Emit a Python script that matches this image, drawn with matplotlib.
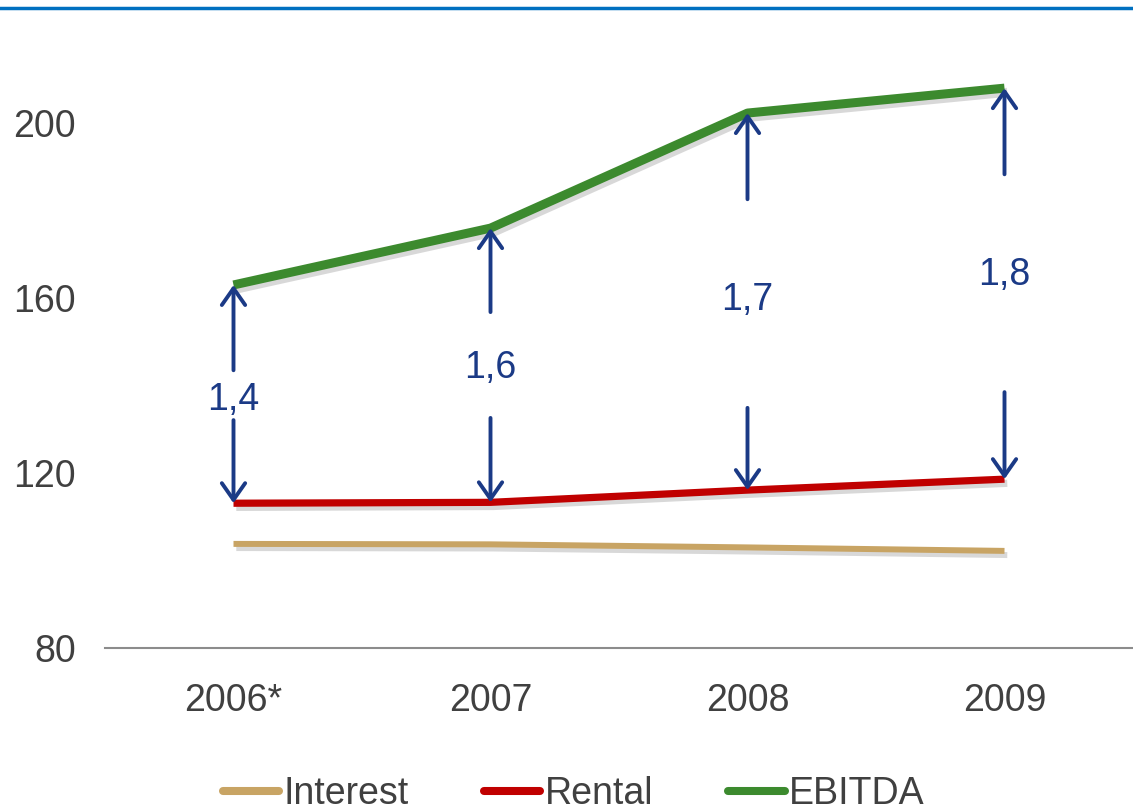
import matplotlib
matplotlib.use("Agg")
import matplotlib.pyplot as plt
import matplotlib.patheffects as pe
from matplotlib.lines import Line2D

# ---- data ----
years = ["2006*", "2007", "2008", "2009"]
interest = [103.8, 103.7, 103.0, 102.2]
rental = [113.1, 113.3, 116.1, 118.6]
ebitda = [163.0, 176.0, 202.3, 208.0]
ratio_labels = ["1,4", "1,6", "1,7", "1,8"]
# annotation placement (value-axis units)
label_base = [134.4, 141.7, 157.3, 163.0]
up_start = [143.5, 156.8, 182.6, 188.3]
down_start = [132.1, 132.6, 134.9, 138.5]
yticks = [80, 120, 160, 200]

plt.rcParams["font.family"] = ["Liberation Sans", "DejaVu Sans"]

fig = plt.figure(figsize=(11.33, 8.10), dpi=100)
ax = fig.add_axes([105 / 1133, 0.2, 1 - 105 / 1133, 0.756])

x = list(range(len(years)))
shadow = [pe.SimpleLineShadow(offset=(2, -3), shadow_color="#808080", alpha=0.3), pe.Normal()]

ax.plot(x, interest, color="#C8A464", lw=4.3, solid_capstyle="butt", path_effects=shadow, label="Interest", zorder=3)
ax.plot(x, rental, color="#C00000", lw=5.2, solid_capstyle="butt", path_effects=shadow, label="Rental", zorder=3)
ax.plot(x, ebitda, color="#3C8A2E", lw=6.5, solid_capstyle="butt", path_effects=shadow, label="EBITDA", zorder=3)

navy = "#1B3A86"
astyle = "->,head_length=0.6,head_width=0.42"
for i in x:
    ax.annotate("", xy=(i, ebitda[i]), xytext=(i, up_start[i]),
                arrowprops=dict(arrowstyle=astyle, color=navy, lw=2.8,
                                shrinkA=0, shrinkB=0, mutation_scale=20), zorder=4)
    ax.annotate("", xy=(i, rental[i]), xytext=(i, down_start[i]),
                arrowprops=dict(arrowstyle=astyle, color=navy, lw=2.8,
                                shrinkA=0, shrinkB=0, mutation_scale=20), zorder=4)
    ax.text(i, label_base[i], ratio_labels[i], ha="center", va="baseline", fontsize=27, color=navy)

ax.set_xlim(-0.5, 3.5)
ax.set_ylim(80, 220)
ax.set_yticks(yticks)
ax.set_xticks(x)
ax.set_xticklabels(years)
ax.tick_params(axis="both", length=0, labelsize=27, colors="#404040")
ax.tick_params(axis="y", pad=21)
ax.tick_params(axis="x", pad=25)
for s in ["top", "right", "left"]:
    ax.spines[s].set_visible(False)
ax.spines["bottom"].set_color("#8C8C8C")
ax.spines["bottom"].set_linewidth(1.5)

# top blue rule
fig.add_artist(Line2D([0, 1], [1 - 7.5 / 810, 1 - 7.5 / 810], transform=fig.transFigure,
                      color="#0070C0", lw=2.5))

leg = fig.legend(loc="center", bbox_to_anchor=(574 / 1133, 0.02), ncol=3, frameon=False,
                 fontsize=27, handlelength=1.5, handletextpad=0.12, columnspacing=2.0)
for t in leg.get_texts():
    t.set_color("#404040")
for h in leg.get_lines():
    h.set_path_effects([])
    h.set_solid_capstyle("round")
    h.set_linewidth(5.8)

fig.savefig("out.png", dpi=100)
